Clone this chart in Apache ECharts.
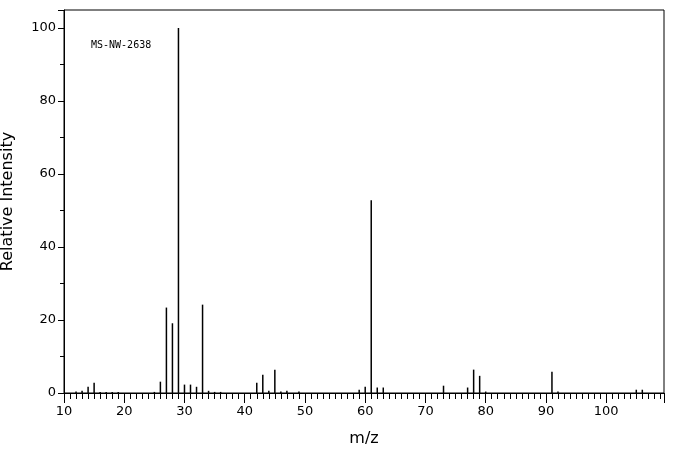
<!DOCTYPE html>
<html><head><meta charset="utf-8">
<script src="https://cdn.jsdelivr.net/npm/echarts@6/dist/echarts.min.js"></script>
<style>html,body{margin:0;background:#fff}#c{width:676px;height:455px}</style>
</head><body><div id="c"></div>
<script>
const mz = [12,13,14,15,16,17,18,19,25,26,27,28,29,30,31,32,33,34,35,36,42,43,44,45,46,47,49,59,60,61,62,63,73,77,78,79,80,91,92,105,106];
const intensity = [0.4,0.6,1.7,2.8,0.3,0.3,0.3,0.3,0.3,3.1,23.4,19.1,100,2.3,2.3,1.7,24.2,0.6,0.3,0.3,2.8,5.0,0.6,6.4,0.4,0.6,0.4,0.9,1.7,52.8,1.5,1.5,2.0,1.5,6.4,4.7,0.4,5.8,0.4,0.9,0.9];
const label = 'MS-NW-2638';
const chart = echarts.init(document.getElementById('c'));
const axisLabel = {color:'#000', fontFamily:'DejaVu Sans', fontSize:13};
chart.setOption({
  animation:false,
  title:{text:label, left:86, top:35, textStyle:{fontFamily:'DejaVu Sans Mono', fontSize:10, fontWeight:'normal', color:'#000'}},
  grid:{left:64, right:12, top:10, bottom:62, containLabel:false, outerBoundsMode:'none', show:true, borderColor:'#000', borderWidth:1},
  xAxis:{type:'value', min:10, max:109.6, interval:10, name:'m/z', nameLocation:'middle', nameGap:38,
    nameTextStyle:{fontFamily:'DejaVu Sans', fontSize:16, color:'#000'},
    axisLine:{lineStyle:{color:'#000'}}, axisTick:{show:true, inside:false, length:10, lineStyle:{color:'#000'}},
    minorTick:{show:true, splitNumber:10, length:6, lineStyle:{color:'#000'}},
    splitLine:{show:false}, axisLabel:Object.assign({showMaxLabel:false, margin:12}, axisLabel)},
  yAxis:{type:'value', min:0, max:104.9, interval:20, name:'Relative Intensity', nameLocation:'middle', nameGap:48,
    nameTextStyle:{fontFamily:'DejaVu Sans', fontSize:16, color:'#000'},
    axisLine:{show:true, lineStyle:{color:'#000'}}, axisTick:{show:true, length:6, lineStyle:{color:'#000'}},
    minorTick:{show:true, splitNumber:2, length:4, lineStyle:{color:'#000'}},
    splitLine:{show:false}, axisLabel:Object.assign({showMaxLabel:false}, axisLabel)},
  series:[{type:'bar', barWidth:1.5, itemStyle:{color:'#000'}, data:mz.map((m,i)=>[m,intensity[i]])}]
});
</script></body></html>
